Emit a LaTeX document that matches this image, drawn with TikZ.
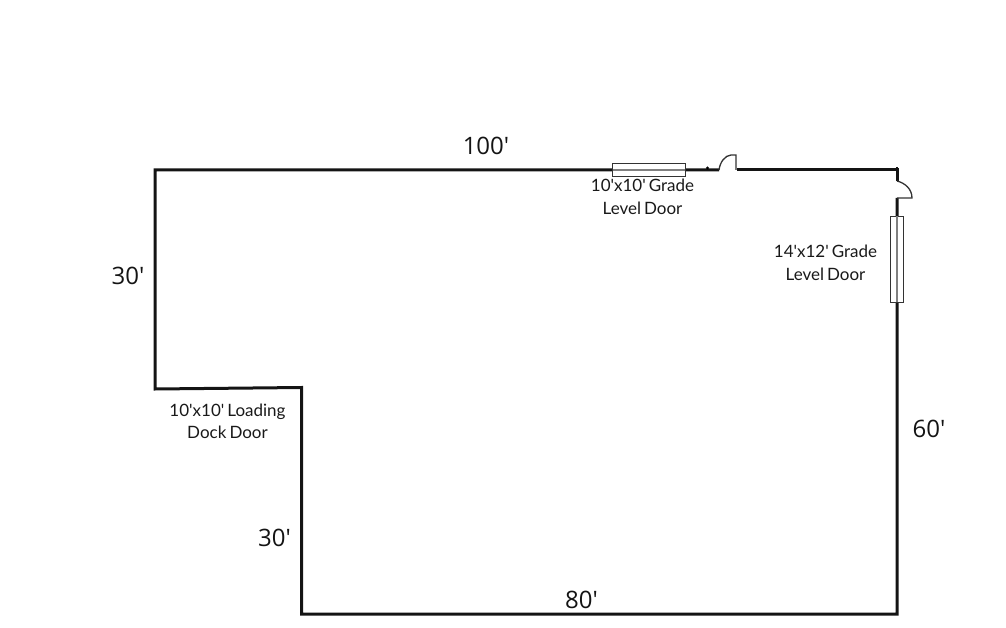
\documentclass[tikz,border=0pt]{standalone}
\usepackage{fontspec}
\newfontfamily\labelfont[WordSpace=0.7]{Lato}
\newfontfamily\dimfont{Open Sans}
\tikzset{
  wall/.style={line width=3pt,black!92,line cap=butt,line join=miter},
  doorbox/.style={line width=0.9pt,black!80,fill=white},
  swing/.style={line width=1.3pt,black!80},
  midline/.style={line width=1.1pt,black!50},
  doorlabel/.style={font=\labelfont\fontsize{17}{22.5}\selectfont,text=black!90,align=center,inner sep=0pt},
  dimlabel/.style={font=\dimfont\fontsize{24}{26}\selectfont,text=black!92,inner sep=0pt}
}
\begin{document}
\begin{tikzpicture}[x=1pt,y=-1pt]
\useasboundingbox (0,0) rectangle (1006,628);
% outline
\draw[wall] (719,170) -- (155,170) -- (155,389) -- (301.5,387.5) -- (301.5,614) -- (897,614) -- (897,198);
\draw[wall] (737,170) -- (897,170) -- (897,181);
\draw[line width=2pt,black!92] (897,167) -- (897,172);
% grade door 1
\draw[doorbox] (612.5,163) rectangle (685,176.5);
\draw[midline] (612.5,170) -- (685,170);
\fill[black] (707.5,168) circle (1.7pt);
\draw[swing] (719,170) .. controls (720,162) and (725,155.5) .. (731,155) -- (736,155) -- (736,170);
% side door swing
\draw[swing] (897,181) .. controls (905,183) and (912,189) .. (912,198) -- (897,198);
% grade door 2
\draw[doorbox] (890,216) rectangle (903.5,302);
\draw[midline] (897,216) -- (897,302);
% labels
\node[dimlabel] (top) at (486,145.5) {100'};
\node[dimlabel] (left) at (128,275.5) {30'};
\node[dimlabel] (right) at (929,428.5) {60'};
\node[dimlabel] (inner) at (274.5,537.5) {30'};
\node[dimlabel] (bottom) at (581.5,600) {80'};
\node[doorlabel] (d1) at (642.5,197) {10'x10' Grade\\Level Door};
\node[doorlabel] (d2) at (825.5,263) {14'x12' Grade\\Level Door};
\node[doorlabel] (d3) at (227.5,421.5) {10'x10' Loading\\Dock Door};
\end{tikzpicture}
\end{document}
